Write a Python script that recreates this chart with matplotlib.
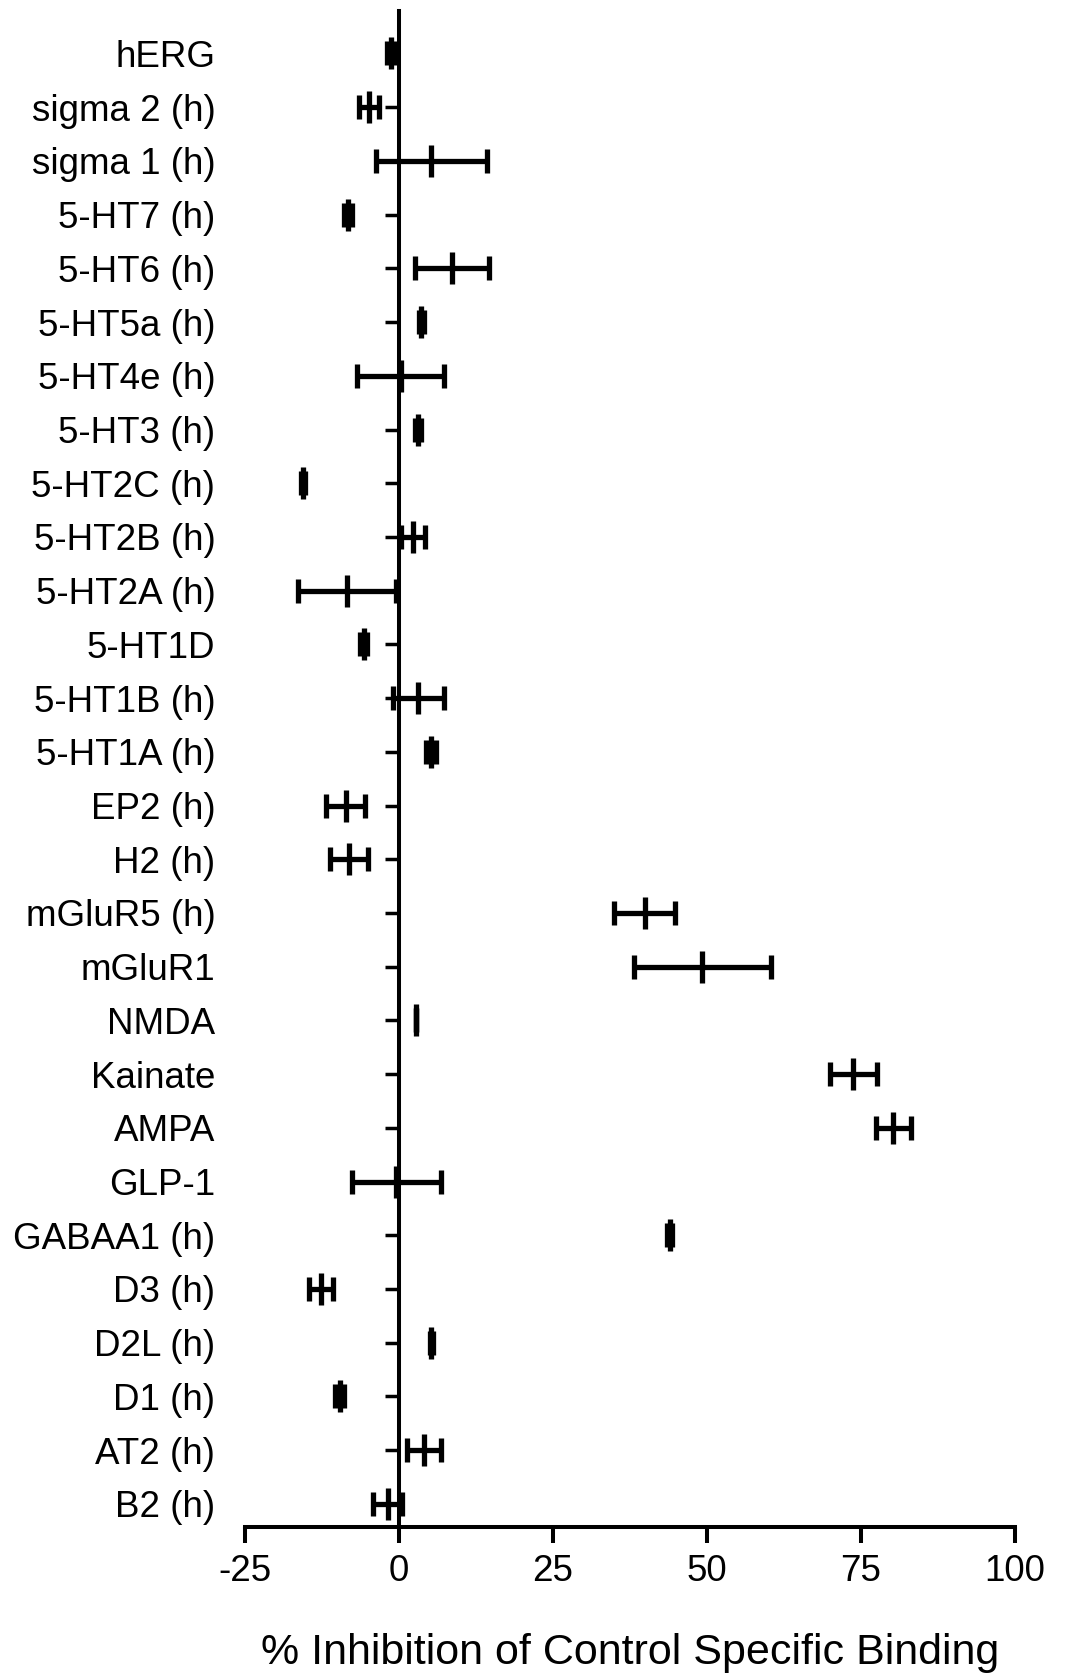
import matplotlib
matplotlib.use("Agg")
import matplotlib.pyplot as plt
import numpy as np

plt.rcParams['font.family'] = ['Liberation Sans', 'DejaVu Sans']

targets = ["hERG", "sigma 2 (h)", "sigma 1 (h)", "5-HT7 (h)", "5-HT6 (h)", "5-HT5a (h)",
           "5-HT4e (h)", "5-HT3 (h)", "5-HT2C (h)", "5-HT2B (h)", "5-HT2A (h)", "5-HT1D",
           "5-HT1B (h)", "5-HT1A (h)", "EP2 (h)", "H2 (h)", "mGluR5 (h)", "mGluR1", "NMDA",
           "Kainate", "AMPA", "GLP-1", "GABAA1 (h)", "D3 (h)", "D2L (h)", "D1 (h)",
           "AT2 (h)", "B2 (h)"]
inhibition = [-1.3, -4.8, 5.3, -8.2, 8.6, 3.7, 0.3, 3.1, -15.5, 2.3, -8.4, -5.7,
              3.2, 5.3, -8.6, -8.0, 39.9, 49.3, 2.8, 73.8, 80.3, -0.4, 44.0, -12.6,
              5.3, -9.6, 4.1, -1.8]
error = [0.6, 1.6, 9.0, 0.6, 6.0, 0.4, 7.0, 0.5, 0.3, 2.0, 7.9, 0.6,
         4.2, 0.8, 3.2, 3.1, 5.0, 11.1, 0.0, 3.8, 2.8, 7.2, 0.4, 2.0,
         0.2, 0.7, 2.8, 2.3]
xticks = [-25, 0, 25, 50, 75, 100]
xlabel = "% Inhibition of Control Specific Binding"

n = len(targets)
ypos = np.arange(n)[::-1]

fig = plt.figure(figsize=(10.65, 16.75), dpi=100)
ax = fig.add_axes([0.2297, 0.0884, 0.9529 - 0.2297, 0.9934 - 0.0884])

ax.errorbar(inhibition, ypos, xerr=error, fmt='|', ms=23, mew=3.8, color='black',
            ecolor='black', elinewidth=3.8, capsize=8.5, capthick=3.6)

ax.set_xlim(-25, 100)
ax.set_ylim(-0.43, n - 1 + 0.79)
ax.set_xticks(xticks)
ax.set_xticklabels([str(t) for t in xticks])
ax.set_yticks(ypos)
ax.set_yticklabels(targets)

ax.spines['top'].set_visible(False)
ax.spines['right'].set_visible(False)
ax.spines['left'].set_position(('data', 0))
ax.spines['left'].set_linewidth(2.9)
ax.spines['bottom'].set_linewidth(2.9)

ax.tick_params(axis='y', direction='out', length=10, width=2.5, pad=122, labelsize=26.5)
ax.tick_params(axis='x', direction='out', length=11.5, width=2.9, pad=8, labelsize=26.5)
ax.set_xlabel(xlabel, fontsize=31, labelpad=32)

fig.savefig("out.png", dpi=100)
